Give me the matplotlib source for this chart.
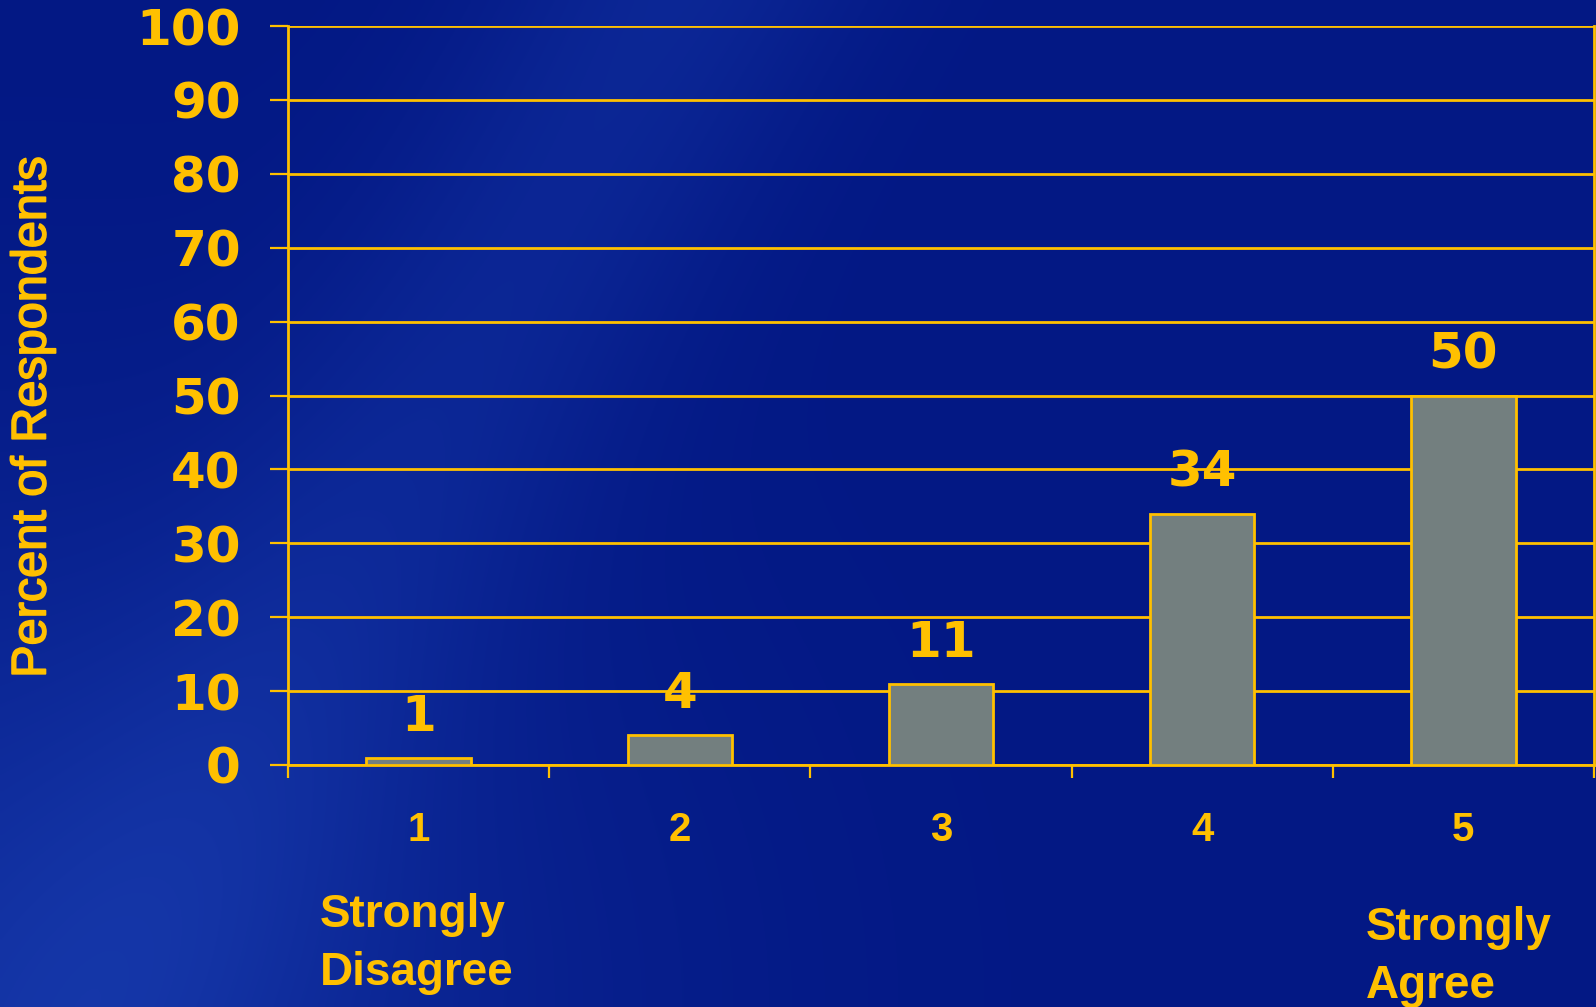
import numpy as np
import matplotlib.pyplot as plt
import matplotlib.patheffects as pe

# survey responses, 1 = strongly disagree ... 5 = strongly agree
categories = [1, 2, 3, 4, 5]
percent = [1, 4, 11, 34, 50]
y_ticks = [0, 10, 20, 30, 40, 50, 60, 70, 80, 90, 100]
x_boundaries = [0.5, 1.5, 2.5, 3.5, 4.5, 5.5]

GOLD = "#FFC000"
BAR = "#737F7F"

W, H = 1596, 1007
fig = plt.figure(figsize=(W / 100, H / 100), dpi=100)

# slide background: navy with soft lighter sweeps on the left
bg = fig.add_axes([0, 0, 1, 1], zorder=0)
u, v = np.meshgrid(np.linspace(0, 1, 400), np.linspace(0, 1, 250))
base = np.array([3, 24, 132]) / 255.0
light = np.array([22, 56, 170]) / 255.0
corner = np.exp(-((u / 0.35) ** 2 + ((1 - v) / 0.5) ** 2))
band_d = (u - (0.42 - 0.35 * v))
band = 0.45 * np.exp(-(band_d / 0.12) ** 2) * (1 - 0.4 * v)
t = np.clip(0.7 * corner + band, 0, 1)[..., None]
img = base * (1 - t) + light * t
bg.imshow(img, extent=[0, 1, 0, 1], aspect="auto", origin="upper",
          interpolation="bilinear")
bg.set_xlim(0, 1)
bg.set_ylim(0, 1)
bg.axis("off")

ax = fig.add_axes([288 / W, 1 - 765 / H, (1594 - 288) / W, (765 - 26) / H], zorder=1)
ax.patch.set_alpha(0)

ax.bar(categories, percent, width=0.4, color=BAR, edgecolor=GOLD,
       linewidth=2, zorder=3)
for x, val in zip(categories, percent):
    ax.annotate(str(val), (x, val), xytext=(0, 19.5), textcoords="offset points",
                ha="center", va="baseline", color=GOLD, fontsize=36,
                fontweight="bold", family="DejaVu Sans", zorder=4)

ax.set_xlim(0.5, 5.5)
ax.set_ylim(0, 100)
ax.set_yticks(y_ticks)
ax.yaxis.grid(True, color=GOLD, linewidth=2)
ax.set_axisbelow(True)

ax.set_xticks(categories)
ax.set_xticks(x_boundaries, minor=True)
ax.tick_params(axis="x", which="major", length=0, pad=33, labelsize=29,
               labelcolor=GOLD)
ax.tick_params(axis="x", which="minor", direction="out", length=9.5,
               width=1.6, color=GOLD)
ax.tick_params(axis="y", direction="out", length=13, width=1.6, color=GOLD,
               pad=21, labelsize=36, labelcolor=GOLD)
for lab in ax.get_xticklabels():
    lab.set_fontweight("bold")
    lab.set_family("Liberation Sans")
for lab in ax.get_yticklabels():
    lab.set_fontweight("bold")
    lab.set_family("DejaVu Sans")

for side in ["left", "right", "bottom"]:
    ax.spines[side].set_color(GOLD)
    ax.spines[side].set_linewidth(2)
ax.spines["top"].set_visible(False)

thicken = [pe.withStroke(linewidth=1.2, foreground=GOLD)]
fig.text(33 / W, 1 - 417 / H, "Percent of Respondents", rotation=90,
         ha="center", va="center", color=GOLD, fontsize=35,
         family="Liberation Sans", path_effects=thicken)
fig.text(320 / W, 1 - 893 / H, "Strongly\nDisagree", ha="left", va="top",
         color=GOLD, fontsize=33, fontweight="bold", family="Liberation Sans",
         linespacing=1.42)
fig.text(1366 / W, 1 - 906 / H, "Strongly\nAgree", ha="left", va="top",
         color=GOLD, fontsize=33, fontweight="bold", family="Liberation Sans",
         linespacing=1.42)

fig.savefig("out.png", dpi=100)
